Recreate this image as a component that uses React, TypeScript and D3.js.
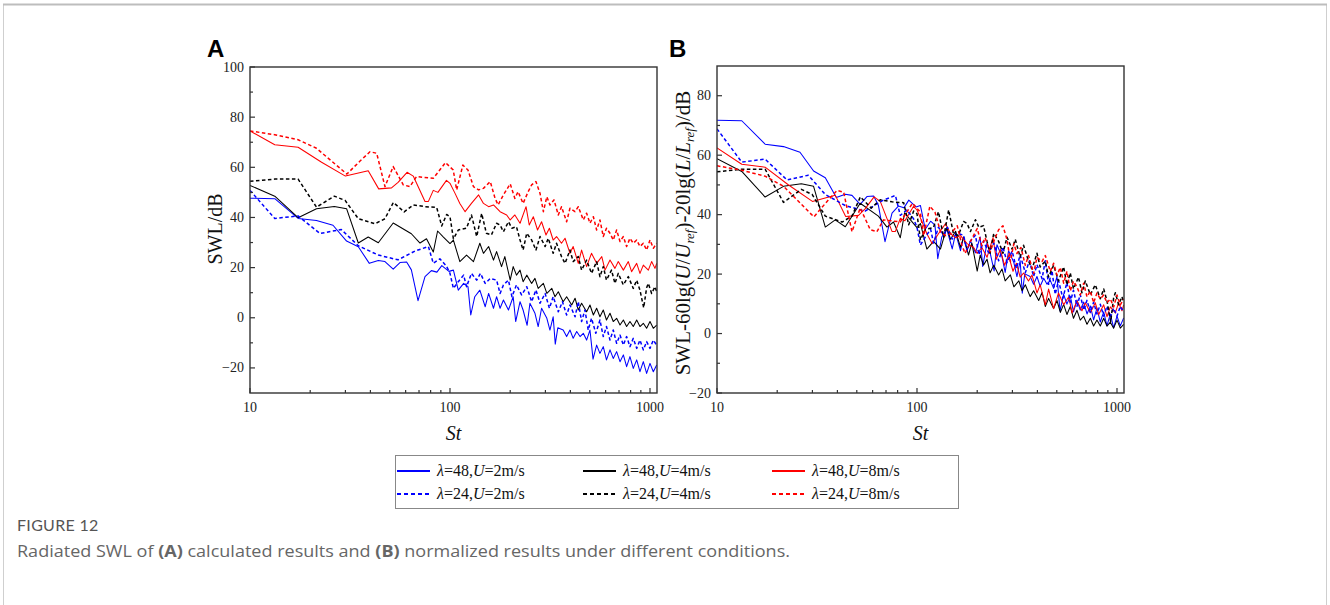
import React from "react";
import * as d3 from "d3";

type Pt = [number, number];

// ---- Panel A data: [St, SWL (dB)] ----
const blueSolid: Pt[] = [
  [10, 47.7], [13.3, 47.5], [17.4, 39.6], [21.5, 38.8], [26, 36.9], [30.4, 30.6], [34.8, 28.3], [39.5, 21.7],
  [43.8, 22.8], [47.3, 22.4], [52, 19.4], [56.2, 22], [60.7, 22.2], [64.1, 19.1], [69.2, 6.8], [75, 16.4],
  [80.7, 18.8], [86, 18.2], [91, 20.8], [98.8, 18.5], [104, 19], [110, 11], [117, 13.7], [123, 12.4],
  [127, 1.1], [133, 8.4], [141, 11], [150, 4.4], [156, 9.7], [165, 3.8], [171, 8.4], [178, 3.8], [185, 7.1],
  [196, 3.1], [207, 8.4], [213, -1.5], [224, 6.4], [232, 3.1], [243, -3], [251, 5.8], [266, 1.8], [276, -3.5],
  [287, 3.8], [305, -0.2], [316, -4.9], [328, 0.4], [336, -10.5], [346, -4], [368, -4.9], [383, -7.5],
  [398, -4.9], [413, -8.2], [430, -5.5], [447, -7.5], [464, -6.2], [482, -8.9], [501, -4.9], [519, -16.5],
  [541, -10.9], [562, -14.2], [584, -11.5], [606, -16.8], [631, -12.8], [655, -16.2], [681, -13.5],
  [708, -17.5], [736, -14.8], [764, -19.5], [794, -15.5], [825, -20.2], [858, -16.8], [891, -21.5],
  [926, -17.5], [962, -22.2], [1000, -18.2], [1039, -21.5], [1080, -18.8],
];
const blueDashed: Pt[] = [
  [10, 50.8], [13.3, 39.6], [17.4, 40.6], [22.4, 33.6], [28.6, 35.2], [34.8, 28.7], [43.8, 25], [55, 23.1],
  [66.8, 26.6], [78, 28.4], [82.5, 21.7], [89, 23.5], [96, 20.6], [100, 17.7], [104, 11.7], [110, 14.4],
  [117, 17], [121, 12.4], [128, 17.7], [136, 15], [142, 17.7], [150, 13.7], [159, 15.7], [171, 15], [178, 9.7],
  [185, 13.1], [196, 15], [204, 8.4], [215, 13.1], [228, 9.1], [242, 12.4], [256, 6.4], [269, 11.1], [282, 5.8],
  [299, 9.7], [314, 3.8], [328, 8.4], [348, 2.4], [365, 6.4], [383, 1.1], [398, 5.1], [422, 0.4], [438, 6.4],
  [455, -1.5], [473, 3.1], [491, -4.9], [510, -0.2], [536, -6.2], [562, -0.9], [584, -7.5], [606, -3.5],
  [631, -8.9], [655, -4.9], [681, -10.2], [708, -6.9], [736, -10.9], [764, -7.5], [794, -11.5], [825, -8.2],
  [858, -12.2], [891, -8.9], [926, -12.8], [962, -9.5], [1000, -12.2], [1039, -8.9], [1080, -10.9],
];
const blackSolid: Pt[] = [
  [10, 52.8], [13.3, 48.5], [17.4, 39.9], [21.5, 43.5], [26.4, 44.4], [30.4, 43.5], [34.8, 29.8], [39, 32.2],
  [43.8, 29.9], [52, 37.8], [64.1, 33.5], [70.8, 29.8], [76.3, 31.5], [82.5, 26.2], [86.7, 34.6], [92.7, 32.2],
  [100, 29.6], [104, 31], [112, 22.4], [121, 25], [131, 22.4], [141, 29.7], [147, 25.7], [156, 28.4], [165, 23],
  [171, 26.4], [181, 20.4], [188, 24.4], [200, 15], [207, 20.4], [215, 17], [224, 19], [232, 14.4], [242, 17],
  [256, 13.7], [266, 15.7], [276, 11.7], [293, 13.7], [305, 9.7], [323, 11.7], [335, 8.4], [348, 10.4],
  [368, 6.4], [383, 8.4], [406, 5.1], [422, 7.8], [438, 3.1], [455, 5.8], [482, 2.4], [501, 5.1], [521, 1.1],
  [541, 3.8], [562, 0.4], [584, 3.1], [606, -0.9], [631, 1.8], [655, -1.5], [681, -0.2], [708, -2.9],
  [736, -0.9], [764, -3.5], [794, -1.5], [825, -3.5], [858, -0.9], [891, -3.5], [926, -2.2], [962, -4.2],
  [1000, -1.5], [1039, -4.2], [1080, -2.9],
];
const blackDashed: Pt[] = [
  [10, 54.4], [13.3, 55.3], [17.4, 55.3], [21.5, 44.1], [26.4, 48.5], [29.9, 46.8], [34.8, 39.5], [42.2, 37.5],
  [47.3, 39.5], [52.1, 46], [59, 42.2], [65.5, 45], [75, 44.3], [85.8, 44], [90.9, 36.6], [96.2, 41.2],
  [100, 40.3], [104, 31.5], [110, 35], [121, 35.7], [128, 41], [136, 32.4], [144, 41.6], [152, 33.7], [161, 33],
  [171, 37.7], [178, 37], [185, 34.3], [196, 38.3], [204, 35.7], [215, 36.3], [224, 31], [232, 27], [242, 33.7],
  [256, 31], [269, 27], [282, 32.4], [299, 28.4], [310, 31.7], [328, 25.7], [341, 29.7], [361, 24.4],
  [376, 21.7], [398, 27], [413, 22.4], [438, 24.4], [455, 19], [482, 23], [510, 17.7], [541, 22.4], [562, 16.4],
  [584, 20.4], [606, 15], [642, 19], [668, 13.7], [694, 17.7], [736, 13.1], [779, 16.4], [825, 11.7],
  [858, 15], [891, 11], [930, 4], [962, 12], [981, 13.7], [1019, 9.7], [1059, 12.4], [1080, 10.4],
];
const redSolid: Pt[] = [
  [10, 74.5], [13.3, 69], [17.4, 68], [22.8, 62], [30, 56.5], [39, 58.6], [44, 51.4], [51, 51.8], [55, 54],
  [61, 58], [65.5, 56.5], [75, 46.4], [78, 46.4], [82.5, 50.8], [87, 50], [96, 54.8], [100, 53.6], [106, 49.6],
  [112, 45.6], [119, 42.3], [128, 45.6], [139, 49], [147, 45.6], [156, 44.3], [165, 45], [178, 42.3], [192, 41],
  [200, 39], [211, 41], [224, 37.7], [240, 44.3], [249, 37], [261, 40.3], [274, 35], [287, 38.3], [302, 33],
  [314, 35.7], [328, 31], [341, 32.4], [361, 29.7], [376, 31.7], [398, 25.7], [413, 28.4], [438, 21.7],
  [455, 27], [482, 20.4], [510, 25.7], [541, 21.7], [574, 24.4], [596, 19], [631, 23], [668, 19.7],
  [694, 22.4], [736, 19], [779, 22.4], [809, 18.4], [858, 21.7], [891, 17.7], [926, 21], [981, 19],
  [1019, 22.4], [1059, 19.7], [1080, 21.7],
];
const redDashed: Pt[] = [
  [10, 74.5], [13.3, 73], [17.4, 71], [21.5, 67.6], [30.5, 57.3], [35.5, 62.5], [39.8, 66.2], [43, 65.6],
  [47.3, 52.3], [52, 60.3], [58.4, 53], [63, 52.3], [68, 56.3], [82.5, 55.6], [95, 61.9], [103.8, 58.9],
  [108, 51], [116, 60.9], [123, 58.9], [131, 52.3], [139, 51], [147, 51.6], [159, 54.3], [168, 47.6], [174, 45],
  [185, 49], [200, 53.4], [211, 47.6], [219, 50.3], [232, 45.6], [246, 50.3], [256, 53], [269, 54.3],
  [282, 49.6], [293, 42.3], [305, 48.3], [316, 45], [331, 47], [348, 41], [361, 44.3], [383, 38.3],
  [398, 43.7], [422, 42.3], [438, 44.3], [464, 39], [482, 41.7], [501, 37.7], [521, 40.3], [541, 35],
  [562, 39], [584, 32.4], [606, 35.7], [631, 33.7], [655, 31], [681, 35], [708, 30.4], [736, 32.4],
  [764, 28.4], [794, 31.7], [825, 29.7], [858, 31], [891, 28.4], [926, 29.7], [962, 27], [1000, 31],
  [1039, 27.7], [1080, 29.7],
];

// ---- series description ----
const seriesLambda = [48, 48, 48, 24, 24, 24];
const seriesU = [2, 4, 8, 2, 4, 8];
const seriesColors = ["#0000ff", "#000000", "#ff0000", "#0000ff", "#000000", "#ff0000"];
const seriesDashed = [false, false, false, true, true, true];
const seriesData = [blueSolid, blackSolid, redSolid, blueDashed, blackDashed, redDashed];
// normalization of panel B: SWL - 60lg(U/Uref) - 20lg(L/Lref)
const U_REF = 4;
const lengthRatioByLambda: Record<number, number> = { 48: 0.5, 24: 1 };

const xTicks = [10, 100, 1000];
const xMinorTicks = [20, 30, 40, 50, 60, 70, 80, 90, 200, 300, 400, 500, 600, 700, 800, 900];
const yTicksA = [-20, 0, 20, 40, 60, 80, 100];
const yMinorA = [-10, 10, 30, 50, 70, 90];
const yTicksB = [-20, 0, 20, 40, 60, 80];
const yMinorB = [-10, 10, 30, 50, 70];
const X_DOMAIN: [number, number] = [10, 1084];
const Y_DOMAIN_A: [number, number] = [-30, 100];
const Y_DOMAIN_B: [number, number] = [-20, 90];

const SERIF = "'Liberation Serif', 'Times New Roman', serif";
const fmt = (v: number) => (v < 0 ? "\u2212" + Math.abs(v) : String(v));

type PanelProps = {
  id: string;
  left: number;
  top: number;
  width: number;
  height: number;
  yDomain: [number, number];
  yTicks: number[];
  yMinor: number[];
  lines: { data: Pt[]; color: string; dashed: boolean }[];
};

function Panel({ id, left, top, width, height, yDomain, yTicks, yMinor, lines }: PanelProps) {
  const x = d3.scaleLog().domain(X_DOMAIN).range([left, left + width]);
  const y = d3.scaleLinear().domain(yDomain).range([top + height, top]);
  const line = d3
    .line<Pt>()
    .x((d) => x(d[0]))
    .y((d) => y(d[1]));
  const bottom = top + height;
  return (
    <g>
      <defs>
        <clipPath id={"clip" + id}>
          <rect x={left} y={top} width={width} height={height} />
        </clipPath>
      </defs>
      <g clipPath={`url(#clip${id})`}>
        {lines.map((l, i) => (
          <path
            key={i}
            d={line(l.data) || ""}
            fill="none"
            stroke={l.color}
            strokeWidth={l.dashed ? 1.5 : 1.05}
            strokeDasharray={l.dashed ? "3.5 2.5" : undefined}
            strokeLinejoin="round"
          />
        ))}
      </g>
      <rect x={left} y={top} width={width} height={height} fill="none" stroke="#333" strokeWidth={1.4} />
      {yTicks.map((t) => (
        <g key={"y" + t}>
          <line x1={left} x2={left + 5} y1={y(t)} y2={y(t)} stroke="#333" strokeWidth={1.2} />
          <text x={left - 6} y={y(t) + 4.5} textAnchor="end" fontFamily={SERIF} fontSize={14} fill="#222">
            {fmt(t)}
          </text>
        </g>
      ))}
      {yMinor.map((t) => (
        <line key={"ym" + t} x1={left} x2={left + 3} y1={y(t)} y2={y(t)} stroke="#333" strokeWidth={1.2} />
      ))}
      {xTicks.map((t) => (
        <g key={"x" + t}>
          <line x1={x(t)} x2={x(t)} y1={bottom} y2={bottom - 5} stroke="#333" strokeWidth={1.2} />
          <text x={x(t)} y={bottom + 19} textAnchor="middle" fontFamily={SERIF} fontSize={14} fill="#222">
            {t}
          </text>
        </g>
      ))}
      {xMinorTicks
        .filter((t) => t < X_DOMAIN[1])
        .map((t) => (
          <line key={"xm" + t} x1={x(t)} x2={x(t)} y1={bottom} y2={bottom - 3} stroke="#333" strokeWidth={1.2} />
        ))}
      <text x={left + width / 2} y={bottom + 47} textAnchor="middle" fontFamily={SERIF} fontSize={20} fontStyle="italic" fill="#111">
        St
      </text>
    </g>
  );
}

export default function App() {
  const linesA = seriesData.map((data, i) => ({ data, color: seriesColors[i], dashed: seriesDashed[i] }));
  const linesB = seriesData.map((data, i) => {
    const off = -60 * Math.log10(seriesU[i] / U_REF) - 20 * Math.log10(lengthRatioByLambda[seriesLambda[i]]);
    return {
      data: data.map((d) => [d[0], d[1] + off] as Pt),
      color: seriesColors[i],
      dashed: seriesDashed[i],
    };
  });

  const legendCols = [397, 583, 772];
  const legendRows = [471, 494];

  return (
    <div style={{ position: "absolute", left: 0, top: 0 }}>
      <svg width={1330} height={605} style={{ display: "block", background: "#fff" }}>
        <rect x={3.5} y={4.5} width={1323} height={700} fill="none" stroke="#cfcfcf" strokeWidth={1} />
        <line x1={3} x2={1327} y1={4.5} y2={4.5} stroke="#bdbdbd" strokeWidth={2} />

        <text x={207} y={57} fontFamily="'Liberation Sans', Arial, sans-serif" fontWeight="bold" fontSize={24} fill="#000">
          A
        </text>
        <text x={669} y={57} fontFamily="'Liberation Sans', Arial, sans-serif" fontWeight="bold" fontSize={24} fill="#000">
          B
        </text>

        <Panel id="A" left={250} top={67} width={407} height={326} yDomain={Y_DOMAIN_A} yTicks={yTicksA} yMinor={yMinorA} lines={linesA} />
        <Panel id="B" left={717} top={66} width={407} height={327} yDomain={Y_DOMAIN_B} yTicks={yTicksB} yMinor={yMinorB} lines={linesB} />

        <text transform="translate(222,229) rotate(-90)" textAnchor="middle" fontFamily={SERIF} fontSize={20} fill="#111">
          SWL/dB
        </text>
        <text transform="translate(690,233) rotate(-90)" textAnchor="middle" fontFamily={SERIF} fontSize={21} fill="#111">
          SWL-60lg(<tspan fontStyle="italic">U</tspan>/<tspan fontStyle="italic">U</tspan>
          <tspan fontStyle="italic" fontSize={13} dy={4}>ref</tspan>
          <tspan dy={-4}>)-20lg(</tspan>
          <tspan fontStyle="italic">L</tspan>/<tspan fontStyle="italic">L</tspan>
          <tspan fontStyle="italic" fontSize={13} dy={4}>ref</tspan>
          <tspan dy={-4}>)/dB</tspan>
        </text>

        {/* legend */}
        <rect x={395.5} y={455.5} width={563} height={53} fill="#fff" stroke="#888" strokeWidth={1} />
        {seriesData.map((_, i) => {
          const col = i % 3;
          const row = seriesDashed[i] ? 1 : 0;
          const lx = legendCols[col];
          const ly = legendRows[row];
          return (
            <g key={"lg" + i}>
              <line
                x1={lx}
                x2={lx + 33}
                y1={ly}
                y2={ly}
                stroke={seriesColors[i]}
                strokeWidth={2}
                strokeDasharray={seriesDashed[i] ? "4 3" : undefined}
              />
              <text x={lx + 40} y={ly + 5} fontFamily={SERIF} fontSize={16} fill="#111">
                <tspan fontStyle="italic">λ</tspan>={seriesLambda[i]},<tspan fontStyle="italic">U</tspan>={seriesU[i]}m/s
              </text>
            </g>
          );
        })}

        {/* caption */}
        <text x={17} y={531} fontFamily="Lato, 'Open Sans', sans-serif" fontSize={16} fill="#555" letterSpacing={0.3}>
          FIGURE 12
        </text>
        <text
          x={17}
          y={557}
          fontFamily="'Open Sans', Lato, sans-serif"
          fontSize={15.5}
          fill="#666"
          textLength={773}
          lengthAdjust="spacingAndGlyphs"
        >
          Radiated SWL of <tspan fontWeight="bold">(A)</tspan> calculated results and <tspan fontWeight="bold">(B)</tspan> normalized results under different conditions.
        </text>
      </svg>
    </div>
  );
}
